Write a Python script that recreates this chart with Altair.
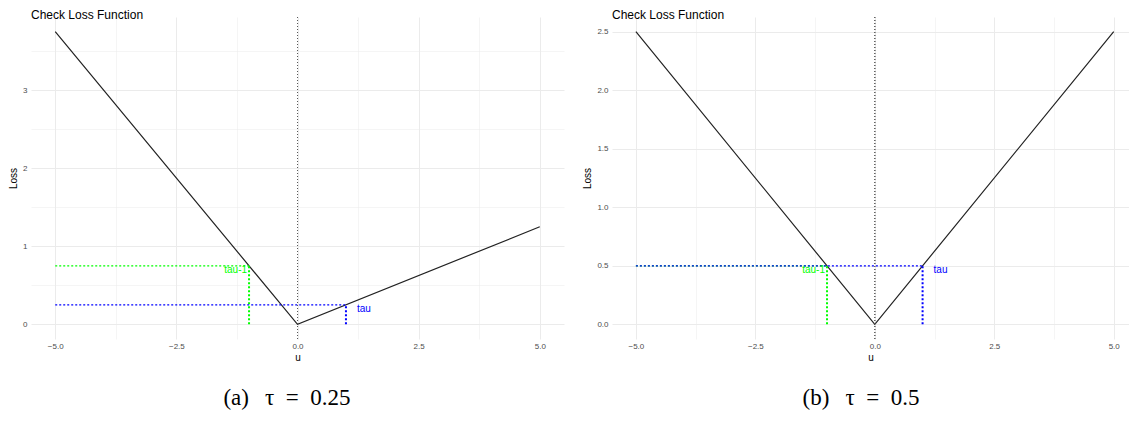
import altair as alt
import pandas as pd

# ---- data ----
u_vals = [-5.0, 0.0, 5.0]
loss_a = [3.75, 0.0, 1.25]        # tau = 0.25
loss_b = [2.5, 0.0, 2.5]          # tau = 0.5

# guide segments (start u, end u, start loss, end loss)
green_a_u = [-5.0, -1.0]; green_a_u2 = [-1.0, -1.0]; green_a_l = [0.75, 0.0]; green_a_l2 = [0.75, 0.75]
blue_a_u = [-5.0, 1.0];   blue_a_u2 = [1.0, 1.0];    blue_a_l = [0.25, 0.0];  blue_a_l2 = [0.25, 0.25]
green_b_u = [-5.0, -1.0]; green_b_u2 = [-1.0, -1.0]; green_b_l = [0.5, 0.0];  green_b_l2 = [0.5, 0.5]
blue_b_u = [-5.0, 1.0];   blue_b_u2 = [1.0, 1.0];    blue_b_l = [0.5, 0.0];   blue_b_l2 = [0.5, 0.5]

label_green = "tau-1"
label_blue = "tau"
title_text = "Check Loss Function"
caption_a = "(a)\u2002\u2009\u03c4\u2002=\u20020.25"
caption_b = "(b)\u2002\u2009\u03c4\u2002=\u20020.5"

x_ticks = [-5.0, -3.75, -2.5, -1.25, 0.0, 1.25, 2.5, 3.75, 5.0]
y_ticks_a = [0.0, 0.5, 1.0, 1.5, 2.0, 2.5, 3.0, 3.5]
y_ticks_b = [0.0, 0.25, 0.5, 0.75, 1.0, 1.25, 1.5, 1.75, 2.0, 2.25, 2.5]

FONT = "Liberation Sans"
GREEN = "#00ff00"
BLUE = "#0000ff"
H = 322


def seg_df(u, u2, l, l2):
    return pd.DataFrame({"u": u, "u2": u2, "loss": l, "loss2": l2})


def panel(loss, g, b, y_dom, y_ticks, y_major, y_fmt, x_dom, width, caption, cap_x):
    x_axis = alt.Axis(
        values=x_ticks,
        labelExpr="datum.value % 2.5 === 0 ? format(datum.value, '.1f') : ''",
        ticks=False, domain=False, labelFont=FONT, labelFontSize=8,
        labelColor="#4d4d4d", labelPadding=3, titleFont=FONT, titleFontSize=10,
        titleFontWeight="normal", titleColor="#000000", titlePadding=2,
        gridColor="#ebebeb",
        gridWidth={"condition": {"test": "datum.value % 2.5 === 0", "value": 1}, "value": 0.5},
    )
    y_axis = alt.Axis(
        values=y_ticks,
        labelExpr=f"datum.value % {y_major} === 0 ? format(datum.value, '{y_fmt}') : ''",
        ticks=False, domain=False, labelFont=FONT, labelFontSize=8,
        labelColor="#4d4d4d", labelPadding=4, titleFont=FONT, titleFontSize=10,
        titleFontWeight="normal", titleColor="#000000", titlePadding=4,
        gridColor="#ebebeb",
        gridWidth={"condition": {"test": f"datum.value % {y_major} === 0", "value": 1}, "value": 0.5},
    )
    xs = alt.Scale(domain=x_dom, nice=False, zero=False)
    ys = alt.Scale(domain=y_dom, nice=False, zero=False)

    line_df = pd.DataFrame({"u": u_vals, "loss": loss})
    line = alt.Chart(line_df).mark_line(color="#222222", strokeWidth=1.2).encode(
        x=alt.X("u:Q", scale=xs, axis=x_axis, title="u"),
        y=alt.Y("loss:Q", scale=ys, axis=y_axis, title="Loss"),
    )
    vline = alt.Chart(line_df).mark_rule(color="#555555", strokeWidth=0.8, strokeDash=[1, 2]).encode(
        x=alt.datum(0.0)
    )

    def segs(df, color):
        h = alt.Chart(df.iloc[[0]]).mark_rule(color=color, strokeWidth=1.3, strokeDash=[2, 2]).encode(
            x=alt.X("u:Q"), x2="u2:Q", y=alt.Y("loss:Q"), y2="loss2:Q")
        v = alt.Chart(df.iloc[[1]]).mark_rule(color=color, strokeWidth=2, strokeDash=[2, 2]).encode(
            x=alt.X("u:Q"), x2="u2:Q", y=alt.Y("loss:Q"), y2="loss2:Q")
        return [h, v]

    gdf = seg_df(*g)
    bdf = seg_df(*b)

    lab_g = alt.Chart(pd.DataFrame({"u": [gdf["u2"][1]], "loss": [gdf["loss2"][1]], "t": [label_green]})).mark_text(
        align="right", baseline="middle", dx=-2, dy=4, font=FONT, fontSize=10, color=GREEN
    ).encode(x="u:Q", y="loss:Q", text="t:N")
    lab_b = alt.Chart(pd.DataFrame({"u": [bdf["u2"][1]], "loss": [bdf["loss2"][1]], "t": [label_blue]})).mark_text(
        align="left", baseline="middle", dx=11, dy=4, font=FONT, fontSize=10, color=BLUE
    ).encode(x="u:Q", y="loss:Q", text="t:N")

    ttl = alt.Chart(pd.DataFrame({"t": [title_text]})).mark_text(
        align="left", baseline="alphabetic", font=FONT, fontSize=12, color="#000000"
    ).encode(x=alt.value(0), y=alt.value(1.5), text="t:N")
    cap = alt.Chart(pd.DataFrame({"t": [caption]})).mark_text(
        align="center", baseline="alphabetic", font="Liberation Serif", fontSize=23, color="#000000"
    ).encode(x=alt.value(cap_x), y=alt.value(H + 66), text="t:N")

    layers = [line] + segs(gdf, GREEN) + segs(bdf, BLUE) + [vline, lab_g, lab_b, ttl, cap]
    return alt.layer(*layers).properties(width=width, height=H)


left = panel(loss_a,
             (green_a_u, green_a_u2, green_a_l, green_a_l2),
             (blue_a_u, blue_a_u2, blue_a_l, blue_a_l2),
             [-0.1875, 3.9375], y_ticks_a, 1, "d", [-5.5, 5.5], 533, caption_a, 256)
right = panel(loss_b,
              (green_b_u, green_b_u2, green_b_l, green_b_l2),
              (blue_b_u, blue_b_u2, blue_b_l, blue_b_l2),
              [-0.125, 2.625], y_ticks_b, 0.5, ".1f", [-5.5, 5.32], 517, caption_b, 249)

chart = alt.hconcat(left, right, spacing=18).properties(
    padding={"left": 0, "top": 0, "right": 0, "bottom": 0},
    background="white",
).configure_view(stroke=None)

chart.save("out.html", embed_options={"renderer": "svg", "actions": False})
